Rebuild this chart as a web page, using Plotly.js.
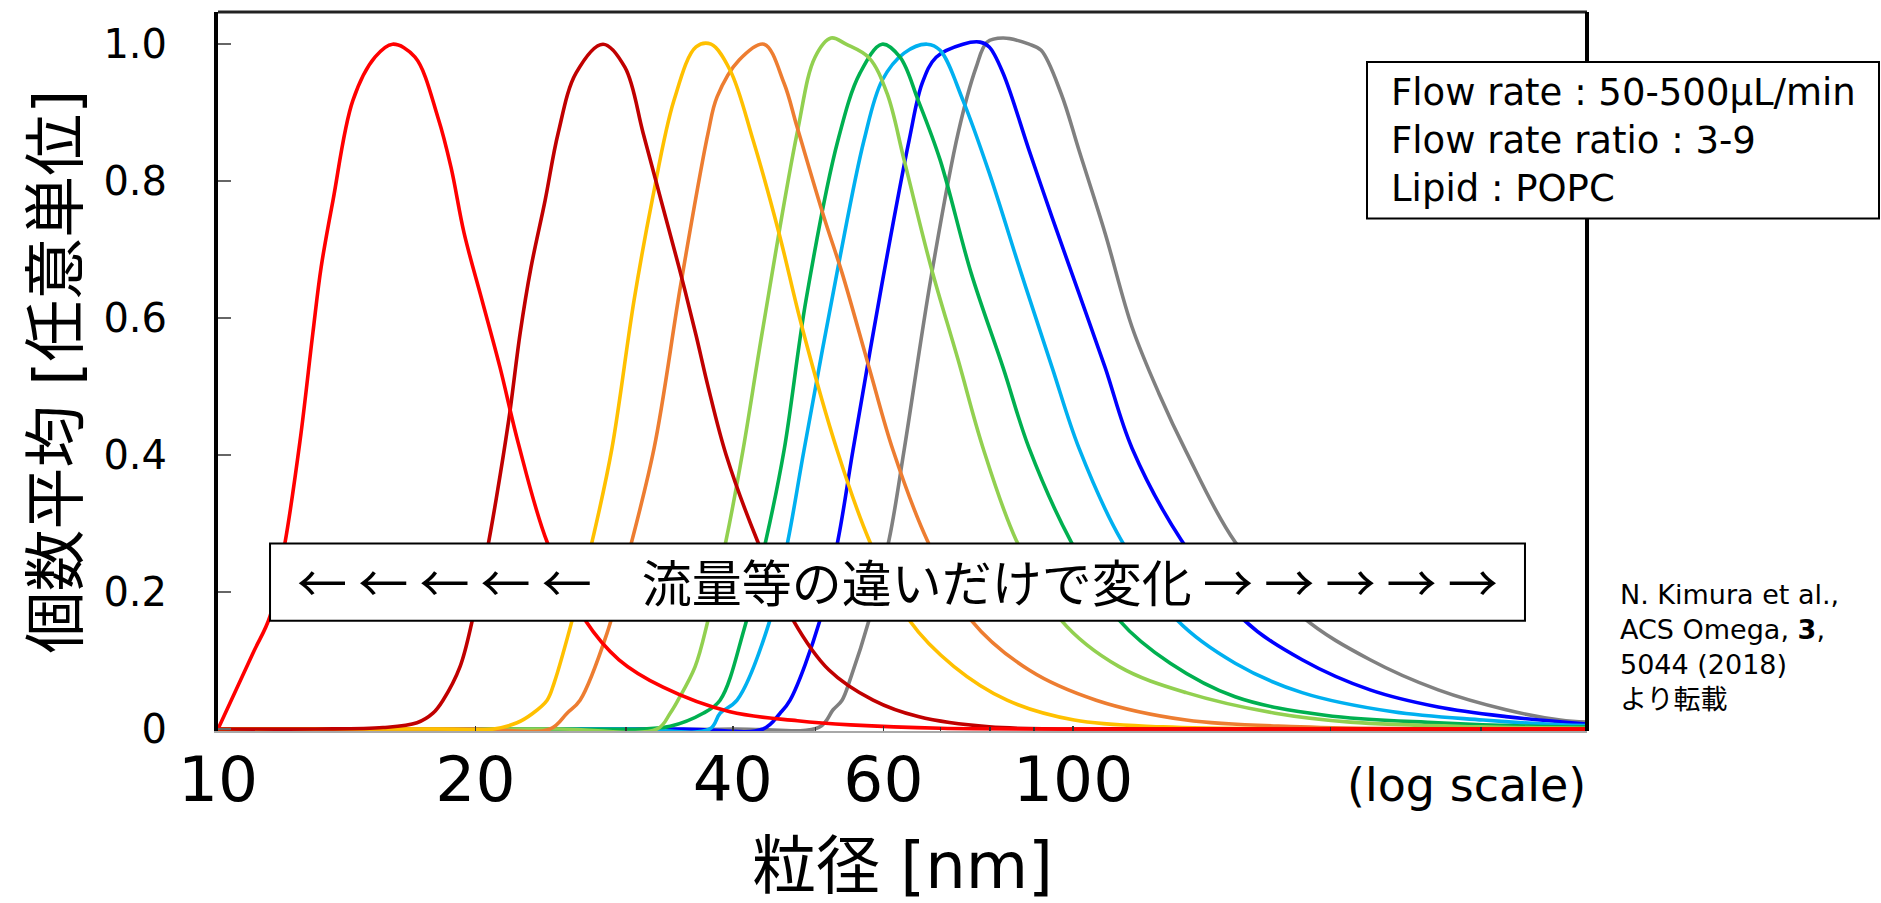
<!DOCTYPE html>
<html><head><meta charset="utf-8">
<script src="https://cdn.plot.ly/plotly-3.0.1.min.js"></script>
<style>html,body{margin:0;padding:0;background:#fff;} #chart{width:1881px;height:903px;}</style>
</head><body><div id="chart"></div>
<script>
// Particle size [nm] and normalized number-average values
const redD = [10, 10.99, 11.5, 11.97, 12.47, 12.91, 13.2, 13.63, 14.38, 15.26, 16.0, 17.0, 18.08, 18.73, 19.4, 20.36, 21.37, 22.44, 24.26, 26.87, 29.44, 33.15, 39.7, 47.6, 54.9, 70, 120, 400];
const redV = [0, 0.111, 0.164, 0.27, 0.42, 0.578, 0.674, 0.772, 0.918, 0.981, 1.0, 0.981, 0.893, 0.82, 0.724, 0.626, 0.528, 0.418, 0.273, 0.159, 0.101, 0.061, 0.025, 0.012, 0.006, 0.001, 0, 0];

const darkRedD = [10, 13, 15.6, 17.09, 17.84, 18.33, 19.19, 19.88, 20.64, 21.14, 21.9, 22.56, 23.23, 24.13, 24.99, 26.23, 28.2, 29.92, 31.42, 32.97, 34.61, 36.23, 37.42, 39.29, 42.7, 47.05, 51.83, 58.36, 65.89, 79.79, 120, 400];
const darkRedV = [0, 0, 0.002, 0.009, 0.023, 0.042, 0.091, 0.164, 0.261, 0.334, 0.455, 0.578, 0.674, 0.772, 0.87, 0.958, 1.0, 0.966, 0.87, 0.772, 0.674, 0.575, 0.5, 0.4, 0.276, 0.159, 0.086, 0.042, 0.018, 0.003, 0, 0];

const goldD = [10, 18, 21.0, 22.37, 23.35, 24.26, 24.72, 26.02, 27.53, 28.89, 30.66, 32.19, 34.14, 36.23, 37.72, 39.71, 42.24, 45.3, 48.19, 52.97, 57.73, 64.31, 72.57, 83.71, 100.3, 127.4, 200, 400];
const goldV = [0, 0, 0, 0.009, 0.023, 0.042, 0.067, 0.164, 0.286, 0.41, 0.626, 0.772, 0.918, 0.996, 1.0, 0.962, 0.86, 0.724, 0.587, 0.407, 0.276, 0.159, 0.091, 0.042, 0.013, 0.003, 0, 0];

const orangeD = [10, 20, 24.46, 25.6, 26.51, 28.51, 29.92, 32.36, 34.79, 37.42, 38.34, 40.69, 43.51, 45.92, 47.56, 51.14, 53.68, 57.73, 61.58, 67.49, 75.98, 88.83, 106.4, 135.6, 184.4, 260, 400];
const orangeV = [0, 0, 0, 0.023, 0.042, 0.14, 0.236, 0.41, 0.651, 0.87, 0.923, 0.977, 1.0, 0.943, 0.879, 0.747, 0.666, 0.528, 0.407, 0.276, 0.159, 0.086, 0.042, 0.013, 0.003, 0, 0];

const lightGreenD = [10, 25, 32.63, 33.79, 34.51, 36.14, 37.42, 39.29, 41.11, 43.28, 47.56, 49.91, 52.12, 54.26, 57.73, 60.6, 63.44, 68.23, 73.37, 78.48, 85.77, 96.82, 113.2, 135.6, 172.3, 210.9, 300, 400];
const lightGreenV = [0, 0, 0, 0.023, 0.042, 0.091, 0.159, 0.276, 0.407, 0.578, 0.87, 0.981, 1.009, 1.0, 0.98, 0.928, 0.831, 0.674, 0.539, 0.41, 0.276, 0.159, 0.091, 0.053, 0.023, 0.01, 0.003, 0.001];

const greenD = [10, 25, 31.17, 33.79, 36.93, 38.65, 41.22, 43.74, 45.92, 48.71, 53.1, 56.35, 59.79, 62.75, 65.89, 69.9, 75.98, 82.8, 88.83, 99.2, 113.2, 129.9, 154.7, 197.1, 267.3, 371.3, 400];
const greenV = [0, 0, 0, 0.004, 0.023, 0.042, 0.145, 0.276, 0.407, 0.626, 0.86, 0.958, 1.0, 0.981, 0.918, 0.831, 0.666, 0.528, 0.41, 0.276, 0.159, 0.096, 0.047, 0.02, 0.009, 0.003, 0.003];

const lightBlueD = [10, 30, 37.6, 38.65, 40.46, 44.34, 46.42, 48.45, 53.1, 56.96, 59.79, 63.44, 67.49, 69.9, 74.34, 79.79, 86.94, 94.5, 101.6, 113.8, 132.3, 154.7, 185.3, 236.7, 301.7, 371.3, 400];
const lightBlueV = [0, 0, 0, 0.023, 0.042, 0.164, 0.276, 0.407, 0.674, 0.86, 0.947, 0.987, 1.0, 0.991, 0.918, 0.812, 0.666, 0.528, 0.41, 0.276, 0.159, 0.096, 0.053, 0.025, 0.013, 0.006, 0.005];

const blueD = [10, 35, 43.39, 45.43, 46.67, 50.59, 53.1, 55.28, 59.79, 64.31, 66.61, 69.16, 74.34, 77.85, 79.79, 82.8, 88.83, 94.5, 101.6, 109.0, 117.2, 133.8, 158.5, 185.3, 222.5, 267.3, 320.9, 400];
const blueV = [0, 0, 0, 0.023, 0.042, 0.159, 0.276, 0.407, 0.651, 0.86, 0.943, 0.981, 1.0, 1.003, 0.996, 0.958, 0.845, 0.747, 0.636, 0.528, 0.41, 0.276, 0.159, 0.101, 0.057, 0.032, 0.018, 0.007];

const grayD = [10, 40, 50.55, 52.4, 53.68, 54.99, 57.73, 60.92, 63.44, 68.23, 73.37, 77.01, 79.33, 82.8, 88.83, 91.75, 96.82, 101.6, 109.0, 117.2, 126.0, 135.6, 154.7, 185.3, 222.5, 267.3, 320.9, 371.3, 400];
const grayV = [0, 0, 0.003, 0.028, 0.042, 0.076, 0.159, 0.276, 0.407, 0.66, 0.87, 0.966, 1.003, 1.009, 1.0, 0.991, 0.928, 0.845, 0.724, 0.587, 0.49, 0.405, 0.273, 0.164, 0.101, 0.057, 0.028, 0.013, 0.01];

const xTickVals = [10, 20, 40, 60, 100];
const xTickText = ['10', '20', '40', '60', '100'];
const xMinorVals = [30, 50, 70, 80, 90, 200, 300];
const yTickVals = [0, 0.2, 0.4, 0.6, 0.8, 1.0];
const yTickText = ['0', '0.2', '0.4', '0.6', '0.8', '1.0'];

const FONT = 'DejaVu Sans, Noto Sans CJK JP, sans-serif';
const CJK = 'Noto Sans CJK JP, DejaVu Sans, sans-serif';

const series = [
  {x: grayD, y: grayV, c: '#808080', n: 'gray'},
  {x: blueD, y: blueV, c: '#0000FF', n: 'blue'},
  {x: lightBlueD, y: lightBlueV, c: '#00B0F0', n: 'light blue'},
  {x: greenD, y: greenV, c: '#00B050', n: 'green'},
  {x: lightGreenD, y: lightGreenV, c: '#92D050', n: 'light green'},
  {x: orangeD, y: orangeV, c: '#ED7D31', n: 'orange'},
  {x: goldD, y: goldV, c: '#FFC000', n: 'gold'},
  {x: darkRedD, y: darkRedV, c: '#C00000', n: 'dark red'},
  {x: redD, y: redV, c: '#FF0000', n: 'red'}
];

const traces = series.map(s => ({
  type: 'scatter', mode: 'lines', x: s.x, y: s.y, name: s.n,
  line: {color: s.c, width: 3.6, shape: 'spline', smoothing: 1},
  hoverinfo: 'skip'
}));

const layout = {
  width: 1881, height: 903,
  margin: {l: 218, r: 294, t: 12, b: 172},
  paper_bgcolor: '#ffffff', plot_bgcolor: '#ffffff',
  showlegend: false,
  font: {family: FONT, color: '#000'},
  xaxis: {
    type: 'log', range: [1, 2.601],
    tickmode: 'array', tickvals: xTickVals, ticktext: xTickText,
    ticks: 'inside', ticklen: 5, tickwidth: 1.5, tickcolor: '#333',
    minor: {tickmode: 'array', tickvals: xMinorVals, ticks: 'inside', ticklen: 4, tickwidth: 1.5, tickcolor: '#333', showgrid: false},
    tickfont: {family: FONT, size: 63, color: '#000'},
    ticklabelstandoff: -8,
    showline: true, linecolor: '#a8a8a8', linewidth: 2,
    showgrid: false, zeroline: false,
    title: {text: '粒径 [nm]', font: {family: FONT, size: 64, color: '#000'}, standoff: 40}
  },
  yaxis: {
    range: [-0.003, 1.047],
    tickmode: 'array', tickvals: yTickVals, ticktext: yTickText,
    ticks: 'inside', ticklen: 13, tickwidth: 1.5, tickcolor: '#666',
    tickfont: {family: FONT, size: 40, color: '#000'},
    ticklabelstandoff: 39,
    showline: true, linecolor: '#000', linewidth: 4,
    showgrid: false, zeroline: false,
    title: {text: '個数平均 [任意単位]', font: {family: FONT, size: 62, color: '#000'}, standoff: 6}
  },
  shapes: [
    {type: 'line', xref: 'paper', yref: 'paper', x0: 0, x1: 1, y0: 1, y1: 1, line: {color: '#222', width: 3}},
    {type: 'line', xref: 'paper', yref: 'paper', x0: 1, x1: 1, y0: 0, y1: 1, line: {color: '#000', width: 4}},
    {type: 'rect', xref: 'paper', yref: 'paper', x0: 0.038, x1: 0.9547, y0: 0.1534, y1: 0.2608,
     fillcolor: '#fff', line: {color: '#000', width: 2}, layer: 'above'},
    {type: 'rect', xref: 'paper', yref: 'paper', x0: 0.8393, x1: 1.2133, y0: 0.7127, y1: 0.9303,
     fillcolor: '#fff', line: {color: '#000', width: 2}, layer: 'above'}
  ],
  annotations: [
    {xref: 'paper', yref: 'paper', x: 0.4963, y: 0.2106, xanchor: 'center', yanchor: 'middle', showarrow: false,
     text: '← ← ← ← ←　流量等の違いだけで変化 → → → → →', font: {family: CJK, size: 50, color: '#000'}},
    {xref: 'paper', yref: 'paper', x: 0.8554, y: 0.8215, xanchor: 'left', yanchor: 'middle', showarrow: false, align: 'left',
     text: 'Flow rate : 50-500µL/min<br>Flow rate ratio : 3-9<br>Lipid : POPC', font: {family: FONT, size: 37, color: '#000'}},
    {xref: 'paper', yref: 'paper', x: 1.0227, y: 0.2135, xanchor: 'left', yanchor: 'top', showarrow: false, align: 'left',
     text: 'N. Kimura et al.,<br>ACS Omega, <b>3</b>,<br>5044 (2018)<br>より転載', font: {family: FONT, size: 27, color: '#000'}},
    {xref: 'paper', yref: 'paper', x: 0.9123, y: -0.0753, xanchor: 'center', yanchor: 'middle', showarrow: false,
     text: '(log scale)', font: {family: FONT, size: 46, color: '#000'}}
  ]
};

Plotly.newPlot('chart', traces, layout, {staticPlot: true, displayModeBar: false});
</script></body></html>
